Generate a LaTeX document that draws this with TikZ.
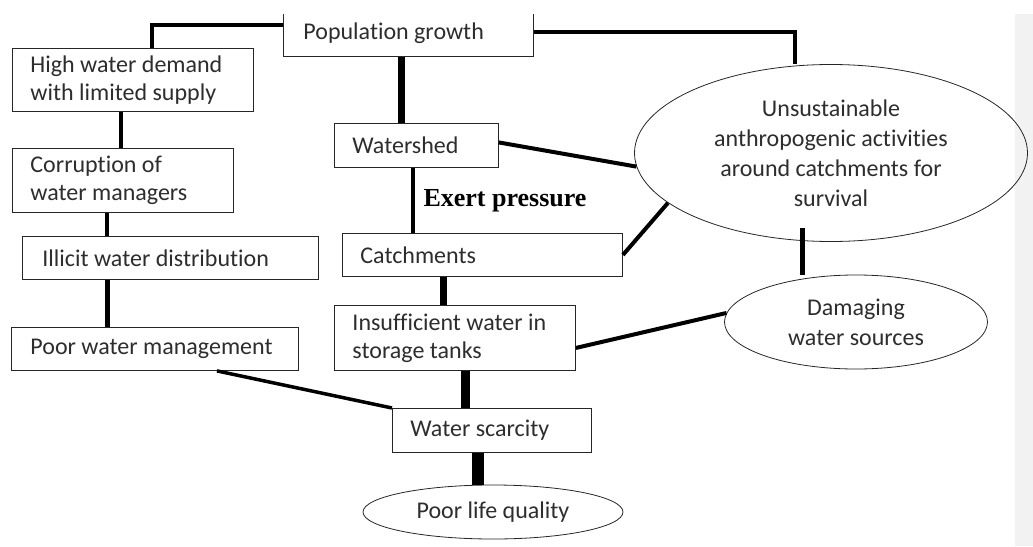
\documentclass[tikz,border=0pt]{standalone}
\usepackage{fontspec}
\setmainfont{Carlito}[Ligatures=NoCommon]
\newfontfamily\timesfont{Liberation Serif}
\definecolor{wtext}{RGB}{45,45,45}
\definecolor{wpanel}{RGB}{242,242,242}
\usetikzlibrary{positioning,shapes.geometric,calc}

\begin{document}
\begin{tikzpicture}[
  x=1pt,y=-1pt,
  every node/.style={font=\fontsize{24}{28}\selectfont,text=wtext},
  wbox/.style={draw=black!85,line width=0.9pt,rectangle,anchor=north west,
               align=flush left,inner ysep=0pt},
  woval/.style={draw=black!85,line width=0.8pt,ellipse,inner sep=0pt,align=center,
                font=\fontsize{24}{30}\selectfont},
  wlink/.style={draw=black,line width=#1},
  wlink/.default=4pt,
]
  \useasboundingbox (0,0) rectangle (1033,546);
  \fill[wpanel] (1015,14) rectangle (1033,546);
  \clip (0,14) rectangle (1033,546);

  % top
  \node[wbox,inner xsep=20pt,text width=210pt,minimum height=46pt] (pop) at (283,10) {Population growth};

  % left chain
  \node[wbox,inner xsep=18pt,text width=205pt,minimum height=63pt] (high) at (12,48)
    {High water demand\\with limited supply};
  \node[wbox,inner xsep=18pt,text width=185pt,minimum height=64pt] (corr) at (12,148)
    {Corruption of\\water managers};
  \node[wbox,inner xsep=20pt,text width=256pt,minimum height=43pt] (illicit) at (22,236)
    {Illicit water distribution};
  \node[wbox,inner xsep=19pt,text width=249pt,minimum height=43pt] (poor) at (11,327)
    {Poor water management};

  % middle chain
  \node[wbox,inner xsep=18pt,text width=128pt,minimum height=44pt] (shed) at (334,123) {Watershed};
  \node[wbox,inner xsep=18pt,text width=244pt,minimum height=43pt] (catch) at (342,233) {Catchments};
  \node[wbox,inner xsep=18pt,text width=205pt,minimum height=65pt] (insuff) at (334,305)
    {Insufficient water in\\storage tanks};
  \node[wbox,inner xsep=18pt,text width=163pt,minimum height=44pt] (scarce) at (392,408) {Water scarcity};
  \node[woval,minimum width=260pt,minimum height=54pt] (life) at (493,512) {Poor life quality};

  % right side
  \node[woval,minimum width=393pt,minimum height=177pt] (unsus) at (831,153)
    {Unsustainable\\anthropogenic activities\\around catchments for\\survival};
  \node[woval,minimum width=263pt,minimum height=94pt] (dmg) at (856,322)
    {Damaging\\water sources};

  \node[font=\timesfont\bfseries\fontsize{26}{28}\selectfont,text=black,anchor=west] (exert) at (420,201)
    {Exert pressure};

  % connectors
  \coordinate (tl) at (152,25);
  \coordinate (tr) at (795,32);
  \coordinate (ud) at (802,228);
  \draw[wlink=4.5pt] (pop.west |- tl) -- (tl) -- (tl |- high.north);
  \draw[wlink=4pt] (pop.east |- tr) -- (tr) -- (tr |- unsus.north);
  \draw[wlink=4pt] (high.south -| 121,0) -- (corr.north -| 121,0);
  \draw[wlink=3.5pt] (corr.south -| 107,0) -- (illicit.north -| 107,0);
  \draw[wlink=5pt] (illicit.south -| 107,0) -- (poor.north -| 107,0);
  \draw[wlink=3.5pt] ([xshift=62pt]poor.south) -- (scarce.north west);
  \draw[wlink=7pt] (pop.south -| 401,0) -- (shed.north -| 401,0);
  \draw[wlink=4pt] (shed.south -| 413,0) -- (catch.north -| 413,0);
  \draw[wlink=4pt] ([yshift=3pt]shed.east) -- (unsus.184);
  \draw[wlink=4pt] (catch.east) -- (unsus.197);
  \draw[wlink=7pt] (catch.south -| 443,0) -- (insuff.north -| 443,0);
  \draw[wlink=9pt] (insuff.south -| 465,0) -- (scarce.north -| 465,0);
  \draw[wlink=12pt] (scarce.south -| 478,0) -- (life.north -| 478,0);
  \draw[wlink=4pt] ([yshift=-10pt]insuff.east) -- (dmg.176);
  \draw[wlink=5pt] (ud) -- (ud |- dmg.north);
\end{tikzpicture}
\end{document}
